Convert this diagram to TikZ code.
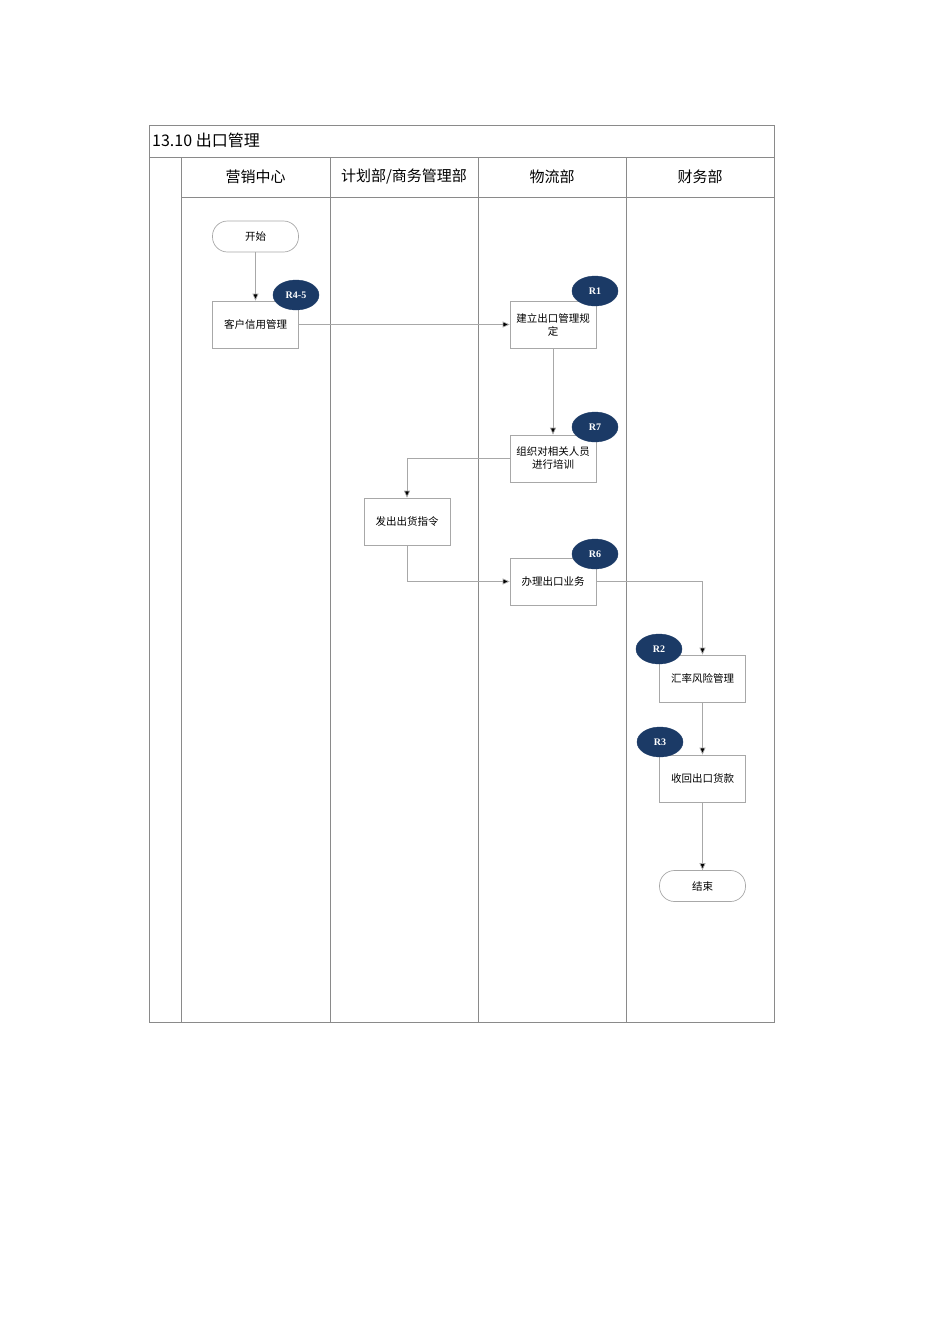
\documentclass[tikz,border=0pt]{standalone}
\usepackage{fontspec}
\setmainfont{Liberation Serif}
\newfontfamily\cjk{Noto Sans CJK SC}
\usetikzlibrary{arrows.meta,positioning,shapes.geometric}
\definecolor{navy}{HTML}{1B3A66}
\definecolor{tline}{HTML}{8A8A8A}
\definecolor{bline}{HTML}{A8A8A8}
\tikzset{
  procbox/.style={draw=bline,line width=0.7pt,minimum width=86pt,minimum height=47pt,align=center,font=\cjk\fontsize{10.5pt}{13pt}\selectfont,inner sep=1pt},
  termbox/.style={draw=bline,line width=0.7pt,rounded corners=15pt,minimum width=86pt,minimum height=31pt,font=\cjk\fontsize{10.5pt}{13pt}\selectfont},
  rtag/.style={ellipse,fill=navy,draw=navy,minimum width=46pt,minimum height=30pt,inner sep=0pt,text=white,font=\fontsize{10pt}{12pt}\selectfont\bfseries},
  flow/.style={draw=bline,line width=0.7pt,-{Triangle[length=7pt,width=6pt,fill=black]}},
  tbl/.style={draw=tline,line width=0.8pt},
  hdr/.style={font=\cjk\fontsize{15pt}{18pt}\selectfont,anchor=center}
}
\begin{document}
\begin{tikzpicture}[x=1pt,y=-1pt]
\useasboundingbox (0,0) rectangle (950,1344);
% table
\draw[tbl] (149,125) rectangle (774,1022);
\draw[tbl] (149,157) -- (774,157);
\draw[tbl] (181,197) -- (774,197);
\draw[tbl] (181,157) -- (181,1022);
\foreach \x in {330,478,626} \draw[tbl] (\x,157) -- (\x,1022);
\node[anchor=west,font=\cjk\fontsize{16pt}{19pt}\selectfont,inner sep=0pt] (title) at (152,140) {13.10 出口管理};
\node[hdr] (h1) at (255.5,177) {营销中心};
\node[hdr] (h2) at (404,177) {计划部/商务管理部};
\node[hdr] (h3) at (552,177) {物流部};
\node[hdr] (h4) at (700,177) {财务部};
% nodes
\node[termbox] (start) at (255.5,236.5) {开始};
\node[procbox] (credit) at (255.5,324.5) {客户信用管理};
\node[procbox] (rule) at (553,324.5) {建立出口管理规\\定};
\node[procbox] (train) at (553,458.5) {组织对相关人员\\进行培训};
\node[procbox] (ship) at (407,521.5) {发出出货指令};
\node[procbox] (biz) at (553,581.5) {办理出口业务};
\node[procbox] (fx) at (702.5,678.5) {汇率风险管理};
\node[procbox] (pay) at (702.5,778.5) {收回出口货款};
\node[termbox] (end) at (702.5,886) {结束};
% tags
\node[rtag] (t45) at (296,295) {R4-5};
\node[rtag] (t1) at (595,291) {R1};
\node[rtag] (t7) at (595,427) {R7};
\node[rtag] (t6) at (595,554) {R6};
\node[rtag] (t2) at (659,649) {R2};
\node[rtag] (t3) at (660,742) {R3};
% connectors
\draw[flow] (start) -- (credit);
\draw[flow] (credit) -- (rule);
\draw[flow] (rule) -- (train);
\draw[flow] (train.west) -| (ship.north);
\draw[flow] (ship.south) |- (biz.west);
\draw[flow] (biz.east) -| (fx.north);
\draw[flow] (fx) -- (pay);
\draw[flow] (pay) -- (end);
\end{tikzpicture}
\end{document}
